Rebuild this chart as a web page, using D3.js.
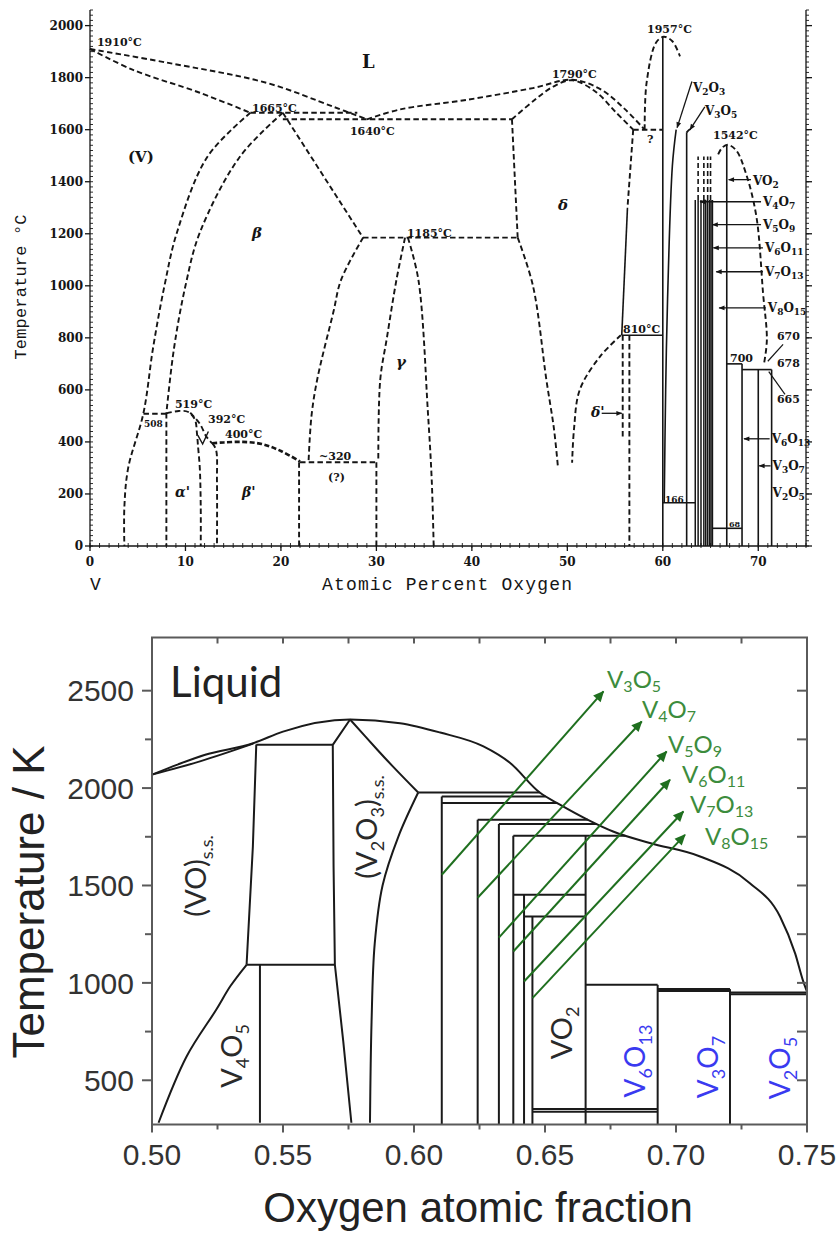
<!DOCTYPE html>
<html><head><meta charset="utf-8">
<script src="https://cdn.jsdelivr.net/npm/d3@7"></script>
<style>
body{margin:0;background:#fff;}
svg{display:block;}
</style></head><body>
<svg id="c" width="838" height="1237"></svg>
<script>
// ================= Upper diagram: V–O system, °C vs atomic percent oxygen =================
const topTempTicks = d3.range(0, 2001, 200);
const topTempMinor = d3.range(0, 2061, 20);
const topOxTicks = d3.range(0, 71, 10);
const topOxMinor = d3.range(0, 76, 1);

// dashed boundaries [at.% O, °C]
const liqV = [[0,1910],[8,1858],[18.5,1780],[25.5,1688],[29,1640]];
const solV = [[0,1910],[4.5,1830],[11.5,1742],[16.8,1665]];
const liqDelta = [[29,1640],[32.5,1678],[39.5,1715],[46.4,1760],[50.5,1792],[53.5,1755],[56,1680],[58.1,1600]];
const solDelta = [[44.2,1640],[46.5,1712],[48.5,1765],[50.5,1790],[53,1745],[55,1670],[56.9,1600]];
const peri1665 = [[16.8,1665],[28,1665]];
const line1640 = [[20.2,1640],[44.2,1640]];
const vSolvus = [[16.8,1665],[12.3,1496],[9.1,1204],[7.8,1000],[6.6,760],[5.6,511],[4.0,300],[3.6,150],[3.6,0]];
const betaLeft = [[20.2,1665],[15.7,1496],[11.5,1204],[10,1000],[8.8,760],[8,511]];
const alphaEdge = [[8,511],[8,0]];
const line508 = [[5.6,508],[8,508]];
const alphaDome = [[8,510],[9.3,519],[10.3,515],[11,485],[11.2,435],[11.3,390],[11.5,300],[11.6,150],[11.6,0]];
const alphaBeta = [[10.5,512],[11.5,470],[12.2,420],[12.8,395]];
const betaPrimeLeft = [[12.8,395],[13.2,370],[13.3,250],[13.3,0]];
const curve400 = [[12.8,395],[14,398],[16,400],[18,392],[20,365],[22,325]];
const line320 = [[22,322],[30,322]];
const edge22 = [[21.9,322],[21.9,0]];
const edge30 = [[30,322],[30,0]];
const gammaOuterLeft = [[22.9,330],[23.2,500],[23.8,640],[25.5,900],[26.3,1023],[28.6,1185]];
const gammaLeft = [[33,1185],[32.1,1023],[31.1,800],[30.4,638],[30.2,330]];
const gammaRight = [[33.3,1185],[34.4,1023],[35.4,511],[35.8,250],[36,0]];
const betaRight = [[20.2,1665],[28.6,1185]];
const line1185 = [[28.6,1185],[44.8,1185]];
const deltaLeft = [[44.2,1640],[44.8,1185]];
const deltaLower = [[44.8,1185],[46.4,1000],[47.8,640],[48.6,450],[49,310]];
const deltaPrime = [[55.6,810],[53.4,727],[51.3,600],[50.7,450],[50.5,320]];
const deltaPrimeA = [[56.5,810],[56.5,0]];
const deltaPrimeB = [[55.8,810],[55.8,420]];
const line1600 = [[56.9,1600],[60,1600]];
const deltaRightUpper = [[56.9,1600],[56.3,1300]];
const v2o3Dome = [[58.1,1600],[58.3,1780],[59.3,1935],[60.1,1957],[61,1940],[61.8,1882]];
const vo2Dome = [[65.8,1505],[66.2,1530],[66.8,1542],[67.7,1520],[68.7,1433],[69.8,1267],[70.5,972],[70.9,792],[70.6,700]];
const v3o5Cap = [[62.5,1590],[62.9,1602],[63.3,1598]];

// solid boundaries
const deltaRightLower = [[56.3,1300],[55.7,810]];
const line810 = [[55.7,810],[60,810]];
const v2o3Line = [[60,0],[60,1957]];
const v2o3Edge = [[61.4,1600],[61.0,1460],[60.5,950],[60.3,600],[60.15,166]];
const line166 = [[60,166],[63.4,166]];
const v3o5Line = [[62.5,0],[62.5,1590]];
const magneliSolid = [63.4, 63.7, 64.0, 64.3, 64.5, 64.7, 64.9, 65.05, 65.2];
const magneliSolidTop = 1330;
const magneliDashed = [63.7, 64.3, 64.7, 65.0];
const magneliDashedTop = 1497;
const vo2Line = [[66.7,0],[66.7,1542]];
const line700 = [[66.7,700],[68.3,700]];
const v6o13Line = [[68.3,0],[68.3,700]];
const line678 = [[68.3,678],[71.4,678]];
const v3o7Line = [[70,0],[70,678]];
const v2o5Line = [[71.4,0],[71.4,678]];
const line68 = [[65.2,68],[68.3,68]];

// labelled phases with pointer arrows: [label, label at.%, label °C, arrow tip at.%, arrow °C]
const pointerLabels = [
  ["VO_{2}", 69.45, 1387, 66.9, 1408],
  ["V_{4}O_{7}", 70.5, 1307, 63.9, 1323],
  ["V_{5}O_{9}", 70.5, 1218, 65.2, 1235],
  ["V_{6}O_{11}", 70.7, 1130, 65.3, 1146],
  ["V_{7}O_{13}", 70.7, 1038, 65.6, 1054],
  ["V_{8}O_{15}", 71.0, 899, 65.9, 915],
  ["V_{6}O_{13}", 71.4, 396, 68.5, 412],
  ["V_{3}O_{7}", 71.5, 292, 70.1, 308]
];
const plainRightLabels = [["V_{2}O_{5}", 71.5, 188]];
// leaders from oxide labels down to the phase lines: [label, x, T, fromAt, fromT, toAt, toT]
const leaderLabels = [
  ["V_{2}O_{3}", 63.16, 1745, 63.05, 1785, 61.5, 1608],
  ["V_{3}O_{5}", 64.42, 1656, 64.4, 1688, 62.85, 1600]
];
// temperature annotations: [text, at.%, °C, font size]
const tempNotes = [
  ["1910°C", 0.73, 1921, 11], ["1665°C", 16.97, 1668, 11], ["1640°C", 27.23, 1580, 11],
  ["1790°C", 48.39, 1799, 11], ["1957°C", 58.35, 1972, 11], ["1542°C", 65.26, 1564, 11],
  ["1185°C", 33.2, 1188, 11], ["810°C", 55.83, 819, 11], ["519°C", 8.9, 530, 11],
  ["508", 5.66, 457, 9], ["392°C", 12.36, 473, 11], ["400°C", 14.14, 415, 11],
  ["~320", 23.99, 331, 11], ["(?)", 24.93, 250, 11], ["?", 58.35, 1549, 11],
  ["166", 60.23, 166, 9], ["700", 67.04, 707, 11], ["670", 71.96, 792, 11],
  ["678", 71.96, 688, 11], ["665", 71.96, 550, 11], ["68", 66.93, 73, 8]
];
// phase-field names: [text, at.%, °C, size, italic]
const phaseNames = [
  ["L", 28.49, 1837, 18, false], ["(V)", 3.98, 1476, 15, false], ["β", 16.97, 1184, 15, true],
  ["δ", 49.02, 1291, 15, true], ["γ", 32.05, 688, 15, true], ["α'", 8.9, 188, 14, true],
  ["β'", 15.92, 188, 14, true], ["δ'", 52.48, 496, 14, true]
];
// small leaders for the 670 / 665 labels: [fromAt, fromT, toAt, toT]
const smallLeaders = [[71.0, 710, 72.6, 775], [71.1, 670, 72.8, 583]];

// ================= Lower diagram: K vs oxygen atomic fraction =================
const botXTicks = [0.50, 0.55, 0.60, 0.65, 0.70, 0.75];
const botXMinor = [0.525, 0.575, 0.625, 0.675, 0.725];
const botYTicks = [500, 1000, 1500, 2000, 2500];
const botYMinor = [750, 1250, 1750, 2250];

const liquidus = [[0.500,2069],[0.510,2122],[0.520,2170],[0.5386,2230],[0.550,2290],[0.5756,2352],[0.5947,2333],[0.610,2285],[0.6265,2214],[0.6366,2130],[0.648,1977],[0.6557,1915],[0.6664,1837],[0.676,1777],[0.690,1718],[0.7092,1649],[0.7282,1512],[0.7397,1341],[0.7455,1150],[0.7485,1010],[0.750,955]];
const lowerLens = [[0.500,2069],[0.5183,2137],[0.5386,2228]];
const voRight = [[0.5398,2224],[0.5385,1700],[0.5361,1093]];
const twoPhaseTop = [[0.5398,2222],[0.5690,2222]];
const v2o3Left = [[0.5756,2352],[0.5690,2222],[0.5693,1600],[0.5698,1093],[0.5730,700],[0.5761,282]];
const eutectoid = [[0.5361,1093],[0.5698,1093]];
const v4o5 = [[0.5412,1093],[0.5412,282]];
const voLeft = [[0.5361,1093],[0.5300,985],[0.5245,862],[0.5132,622],[0.5025,282]];
const v2o3Solidus = [[0.5756,2352],[0.586,2197],[0.592,2110],[0.6016,1977]];
const v2o3Right = [[0.6016,1977],[0.594,1750],[0.588,1500],[0.585,1200],[0.5838,800],[0.5832,282]];

// Magnéli phases: composition and the temperature where each line meets its peritectic
const magneliX = [0.6106, 0.6243, 0.6324, 0.6379, 0.6420, 0.6452];
const magneliTopT = [1957, 1837, 1816, 1755, 1452, 1341];
// peritectic lines running to the liquidus: [start fraction, K]
const peritectics = [[0.6016,1977],[0.6106,1957],[0.6106,1923],[0.6243,1837],[0.6324,1816],[0.6379,1755]];
// closed horizontal segments: [from, to, K]
const tieLines = [[0.6379,0.6655,1452],[0.6420,0.6655,1341],[0.6452,0.693,352],[0.6452,0.693,338],
  [0.6655,0.693,990],[0.693,0.7206,968],[0.693,0.7206,958],[0.7206,0.75,950],[0.7206,0.75,942]];
// stoichiometric lines: [fraction, top K]
const compounds = [[0.6655,1755],[0.693,990],[0.7206,968]];

const arrowTail = [[0.6106,1555],[0.6243,1437],[0.6324,1232],[0.6379,1161],[0.6420,1007],[0.6452,922]];
const arrowHead = [[0.6723,2496],[0.6869,2342],[0.6964,2188],[0.6977,2043],[0.7028,1880],[0.7034,1760]];
const arrowNames = ["V_{3}O_{5}","V_{4}O_{7}","V_{5}O_{9}","V_{6}O_{11}","V_{7}O_{13}","V_{8}O_{15}"];
const arrowNameAt = [[0.6737,2514],[0.6870,2360],[0.6969,2178],[0.7023,2027],[0.7053,1872],[0.7111,1708]];

// vertical phase labels: [text, fraction, K, colour key]
const verticalNames = [
  ["(VO)_{s.s.}", 0.5206, 1549, "k"], ["(V_{2}O_{3})_{s.s.}", 0.5859, 1800, "k"],
  ["V_{4}O_{5}", 0.5344, 625, "k"], ["VO_{2}", 0.6603, 743, "k"],
  ["V_{6}O_{13}", 0.6882, 599, "b"], ["V_{3}O_{7}", 0.7160, 568, "b"], ["V_{2}O_{5}", 0.7435, 563, "b"]
];

// ---------------------------------------------------------------------------------
const INK = "#151515";
const GREEN_LINE = "#1f6f1f";
const GREEN_TEXT = "#3c8c3c";
const BLUE = "#3a3af0";
const serif = "'DejaVu Serif', serif";
const mono = "'Liberation Mono', 'DejaVu Sans Mono', monospace";
const sans = "'Liberation Sans', Arial, sans-serif";
const human = "Lato, 'Liberation Sans', sans-serif";

const svg = d3.select("#c");
const defs = svg.append("defs");
defs.append("marker").attr("id", "gArrow").attr("viewBox", "0 0 10 10")
  .attr("refX", 9).attr("refY", 5).attr("markerWidth", 12).attr("markerHeight", 11)
  .attr("markerUnits", "userSpaceOnUse").attr("orient", "auto")
  .append("path").attr("d", "M0,0.5 L10,5 L0,9.5 Z").attr("fill", GREEN_LINE);
defs.append("marker").attr("id", "kArrow").attr("viewBox", "0 0 10 10")
  .attr("refX", 9).attr("refY", 5).attr("markerWidth", 8).attr("markerHeight", 6)
  .attr("markerUnits", "userSpaceOnUse").attr("orient", "auto")
  .append("path").attr("d", "M0,1 L10,5 L0,9 Z").attr("fill", INK);

function chemText(parent, str, o) {
  const t = parent.append("text")
    .attr("x", o.x).attr("y", o.y)
    .attr("font-family", o.family).attr("font-size", o.size)
    .attr("font-weight", o.weight || "normal")
    .attr("font-style", o.style || "normal")
    .attr("fill", o.fill || INK)
    .attr("text-anchor", o.anchor || "start");
  if (o.rotate) t.attr("transform", `rotate(${o.rotate},${o.x},${o.y})`);
  const subSize = o.subSize || o.size * 0.65;
  const shift = o.subShift || o.size * 0.28;
  let down = false;
  str.split(/(_\{[^}]*\})/).filter(s => s.length).forEach(p => {
    const isSub = p.startsWith("_{");
    const ts = t.append("tspan").text(isSub ? p.slice(2, -1) : p)
      .attr("font-size", isSub ? subSize : o.size);
    if (isSub && !down) { ts.attr("dy", shift); down = true; }
    else if (!isSub && down) { ts.attr("dy", -shift); down = false; }
  });
  return t;
}

// ================= draw upper diagram =================
const xA = d3.scaleLinear([0, 75], [90, 806]);
const yA = d3.scaleLinear([0, 2060], [546, 10]);
const gA = svg.append("g");
const curveA = d3.line().x(d => xA(d[0])).y(d => yA(d[1])).curve(d3.curveCatmullRom.alpha(0.5));
const straightA = d3.line().x(d => xA(d[0])).y(d => yA(d[1]));

const dashed = [liqV, solV, liqDelta, solDelta, vSolvus, betaLeft, alphaDome, alphaBeta, betaPrimeLeft,
  gammaOuterLeft, gammaLeft, gammaRight, deltaLower, deltaPrime, v2o3Dome, vo2Dome, v3o5Cap];
const dashedStraight = [peri1665, line1640, alphaEdge, line508, line320, edge22, edge30, betaRight,
  line1185, deltaLeft, deltaPrimeA, deltaPrimeB, line1600, deltaRightUpper];
gA.selectAll("path.dc").data(dashed).join("path").attr("class", "dc")
  .attr("d", curveA).attr("fill", "none").attr("stroke", INK).attr("stroke-width", 1.9)
  .attr("stroke-dasharray", "5.5,3.2");
gA.selectAll("path.ds").data(dashedStraight).join("path").attr("class", "ds")
  .attr("d", straightA).attr("fill", "none").attr("stroke", INK).attr("stroke-width", 1.9)
  .attr("stroke-dasharray", "5.5,3.2");
gA.append("path").attr("d", curveA(curve400)).attr("fill", "none").attr("stroke", INK)
  .attr("stroke-width", 2.6).attr("stroke-dasharray", "5,2.5");

const solid = [deltaRightLower, line810, v2o3Line, line166, v3o5Line, vo2Line, line700, v6o13Line,
  line678, v3o7Line, v2o5Line, line68];
gA.selectAll("path.sl").data(solid).join("path").attr("class", "sl")
  .attr("d", straightA).attr("fill", "none").attr("stroke", INK).attr("stroke-width", 1.6);
gA.append("path").attr("d", curveA(v2o3Edge)).attr("fill", "none").attr("stroke", INK).attr("stroke-width", 1.6);
gA.selectAll("line.mg").data(magneliSolid).join("line").attr("class", "mg")
  .attr("x1", d => xA(d)).attr("x2", d => xA(d)).attr("y1", yA(0)).attr("y2", yA(magneliSolidTop))
  .attr("stroke", INK).attr("stroke-width", 1.5);
gA.selectAll("line.mgd").data(magneliDashed).join("line").attr("class", "mgd")
  .attr("x1", d => xA(d)).attr("x2", d => xA(d)).attr("y1", yA(magneliSolidTop)).attr("y2", yA(magneliDashedTop))
  .attr("stroke", INK).attr("stroke-width", 1.6).attr("stroke-dasharray", "5,3");
// small junction mark at 392 °C
gA.append("path").attr("d", straightA([[11.3, 425], [11.8, 392], [12.4, 440]]))
  .attr("fill", "none").attr("stroke", INK).attr("stroke-width", 1.4);

// pointer arrows on the right
pointerLabels.forEach(([lab, lx, lt, ax, at]) => {
  gA.append("line").attr("x1", xA(lx) - 2).attr("y1", yA(at)).attr("x2", xA(ax)).attr("y2", yA(at))
    .attr("stroke", INK).attr("stroke-width", 1.3).attr("marker-end", "url(#kArrow)");
  chemText(gA, lab, { x: xA(lx), y: yA(lt), family: serif, size: 12, weight: "bold", subSize: 9, subShift: 3 });
});
plainRightLabels.forEach(([lab, lx, lt]) =>
  chemText(gA, lab, { x: xA(lx), y: yA(lt), family: serif, size: 12, weight: "bold", subSize: 9, subShift: 3 }));
leaderLabels.forEach(([lab, lx, lt, fx, ft, tx, tt]) => {
  gA.append("line").attr("x1", xA(fx)).attr("y1", yA(ft)).attr("x2", xA(tx)).attr("y2", yA(tt))
    .attr("stroke", INK).attr("stroke-width", 1.3).attr("marker-end", "url(#kArrow)");
  chemText(gA, lab, { x: xA(lx), y: yA(lt), family: serif, size: 12, weight: "bold", subSize: 9, subShift: 3 });
});
smallLeaders.forEach(([fx, ft, tx, tt]) => gA.append("line")
  .attr("x1", xA(fx)).attr("y1", yA(ft)).attr("x2", xA(tx)).attr("y2", yA(tt))
  .attr("stroke", INK).attr("stroke-width", 1.2));
// δ' pointer
gA.append("line").attr("x1", xA(53.6)).attr("y1", yA(510)).attr("x2", xA(55.7)).attr("y2", yA(510))
  .attr("stroke", INK).attr("stroke-width", 1.3).attr("marker-end", "url(#kArrow)");

gA.selectAll("text.note").data(tempNotes).join("text").attr("class", "note")
  .attr("x", d => xA(d[1])).attr("y", d => yA(d[2])).text(d => d[0])
  .attr("font-family", serif).attr("font-weight", "bold").attr("font-size", d => d[3]).attr("fill", INK);
gA.selectAll("text.ph").data(phaseNames).join("text").attr("class", "ph")
  .attr("x", d => xA(d[1])).attr("y", d => yA(d[2])).text(d => d[0])
  .attr("font-family", serif).attr("font-weight", "bold").attr("font-size", d => d[3])
  .attr("font-style", d => d[4] ? "italic" : "normal").attr("fill", INK);

// axes: left, right and bottom with ruler-style minor ticks
const axA = gA.append("g").attr("stroke", INK).attr("stroke-width", 1.3);
axA.append("line").attr("x1", xA(0)).attr("x2", xA(0)).attr("y1", yA(0)).attr("y2", yA(2060));
axA.append("line").attr("x1", xA(75)).attr("x2", xA(75)).attr("y1", yA(0)).attr("y2", yA(2060));
axA.append("line").attr("x1", xA(0)).attr("x2", xA(75)).attr("y1", yA(0)).attr("y2", yA(0));
axA.selectAll("line.lmin").data(topTempMinor).join("line").attr("class", "lmin")
  .attr("x1", xA(0)).attr("x2", xA(0) + 3).attr("y1", d => yA(d)).attr("y2", d => yA(d)).attr("stroke-width", 0.9);
axA.selectAll("line.lmaj").data(topTempTicks).join("line").attr("class", "lmaj")
  .attr("x1", xA(0) - 5).attr("x2", xA(0)).attr("y1", d => yA(d)).attr("y2", d => yA(d));
axA.selectAll("line.rmin").data(topTempMinor).join("line").attr("class", "rmin")
  .attr("x1", xA(75)).attr("x2", xA(75) + 3).attr("y1", d => yA(d)).attr("y2", d => yA(d)).attr("stroke-width", 0.9);
axA.selectAll("line.rmaj").data(topTempTicks).join("line").attr("class", "rmaj")
  .attr("x1", xA(75)).attr("x2", xA(75) + 6).attr("y1", d => yA(d)).attr("y2", d => yA(d));
axA.selectAll("line.bmin").data(topOxMinor).join("line").attr("class", "bmin")
  .attr("x1", d => xA(d)).attr("x2", d => xA(d)).attr("y1", yA(0) - 3).attr("y2", yA(0) + 2).attr("stroke-width", 0.9);
axA.selectAll("line.bmaj").data(topOxTicks).join("line").attr("class", "bmaj")
  .attr("x1", d => xA(d)).attr("x2", d => xA(d)).attr("y1", yA(0)).attr("y2", yA(0) + 5);
gA.selectAll("text.yt").data(topTempTicks).join("text").attr("class", "yt")
  .attr("x", xA(0) - 7).attr("y", d => yA(d)).attr("dy", "0.36em").attr("text-anchor", "end")
  .text(d => d).attr("font-family", serif).attr("font-weight", "bold").attr("font-size", 12).attr("fill", INK);
gA.selectAll("text.xt").data(topOxTicks).join("text").attr("class", "xt")
  .attr("x", d => xA(d)).attr("y", 566).attr("text-anchor", "middle")
  .text(d => d).attr("font-family", serif).attr("font-weight", "bold").attr("font-size", 12).attr("fill", INK);
gA.append("text").attr("x", 447).attr("y", 590).attr("text-anchor", "middle").text("Atomic Percent Oxygen")
  .attr("font-family", mono).attr("font-size", 18).attr("textLength", 250).attr("fill", INK);
gA.append("text").attr("x", 90).attr("y", 590).text("V")
  .attr("font-family", mono).attr("font-size", 18).attr("fill", INK);
gA.append("text").attr("transform", "translate(26,287) rotate(-90)").attr("text-anchor", "middle")
  .text("Temperature °C").attr("font-family", mono).attr("font-size", 17).attr("textLength", 145).attr("fill", INK);

// ================= draw lower diagram =================
const xB = d3.scaleLinear([0.5, 0.75], [152, 807]);
const yB = d3.scaleLinear([273, 2773], [1124.5, 637.5]);
const gB = svg.append("g");
const lineB = d3.line().x(d => xB(d[0])).y(d => yB(d[1]));
const KLINE = "#1a1a1a";
const stroke = sel => sel.attr("fill", "none").attr("stroke", KLINE).attr("stroke-width", 2);

const liqPath = gB.append("path").attr("d", lineB.curve(d3.curveMonotoneX)(liquidus)).call(stroke);
gB.append("path").attr("d", lineB.curve(d3.curveMonotoneX)(lowerLens)).call(stroke);
[voLeft, v2o3Solidus, v2o3Right].forEach(c =>
  gB.append("path").attr("d", lineB.curve(d3.curveCatmullRom.alpha(0.5))(c)).call(stroke));
[voRight, twoPhaseTop, v2o3Left, eutectoid, v4o5].forEach(c =>
  gB.append("path").attr("d", lineB.curve(d3.curveLinear)(c)).call(stroke));

// liquidus sampled so peritectic lines end exactly on it
const lp = liqPath.node(), LL = lp.getTotalLength();
const liqSamples = d3.range(0, LL, 0.5).map(l => lp.getPointAtLength(l));
const peakX = xB(0.5756);
const liqXAt = T => { const y = yB(T); const p = liqSamples.find(s => s.x > peakX && s.y >= y); return p ? p.x : xB(0.75); };

peritectics.forEach(([f, T]) => gB.append("line").attr("x1", xB(f)).attr("x2", liqXAt(T))
  .attr("y1", yB(T)).attr("y2", yB(T)).attr("stroke", KLINE).attr("stroke-width", 2));
magneliX.forEach((f, i) => gB.append("line").attr("x1", xB(f)).attr("x2", xB(f))
  .attr("y1", yB(magneliTopT[i])).attr("y2", yB(273)).attr("stroke", KLINE).attr("stroke-width", 2));
compounds.forEach(([f, T]) => gB.append("line").attr("x1", xB(f)).attr("x2", xB(f))
  .attr("y1", yB(T)).attr("y2", yB(273)).attr("stroke", KLINE).attr("stroke-width", 2));
tieLines.forEach(([a, b, T]) => gB.append("line").attr("x1", xB(a)).attr("x2", xB(b))
  .attr("y1", yB(T)).attr("y2", yB(T)).attr("stroke", KLINE).attr("stroke-width", 2));

// green pointers to the Magnéli phases
arrowTail.forEach((t, i) => gB.append("line")
  .attr("x1", xB(t[0])).attr("y1", yB(t[1])).attr("x2", xB(arrowHead[i][0])).attr("y2", yB(arrowHead[i][1]))
  .attr("stroke", GREEN_LINE).attr("stroke-width", 2).attr("marker-end", "url(#gArrow)"));
arrowNames.forEach((n, i) => chemText(gB, n, { x: xB(arrowNameAt[i][0]), y: yB(arrowNameAt[i][1]),
  family: human, size: 24, subSize: 16, subShift: 4, fill: GREEN_TEXT }));

verticalNames.forEach(([n, f, T, c]) => chemText(gB, n, { x: xB(f), y: yB(T), family: human,
  size: c === "b" ? 28 : 29, subSize: 18, subShift: 7, fill: c === "b" ? BLUE : "#2a2a2a",
  anchor: "middle", rotate: -90 }));

gB.append("text").attr("x", xB(0.5069)).attr("y", yB(2468)).text("Liquid")
  .attr("font-family", human).attr("font-size", 42).attr("fill", "#222");

// frame and ticks
const FRAME = "#5a5a5a";
gB.append("rect").attr("x", xB(0.5)).attr("y", yB(2773)).attr("width", xB(0.75) - xB(0.5))
  .attr("height", yB(273) - yB(2773)).attr("fill", "none").attr("stroke", FRAME).attr("stroke-width", 2);
const tk = (x1, y1, x2, y2) => gB.append("line").attr("x1", x1).attr("y1", y1).attr("x2", x2).attr("y2", y2)
  .attr("stroke", FRAME).attr("stroke-width", 2);
botXTicks.forEach(v => { tk(xB(v), yB(273), xB(v), yB(273) + 8); tk(xB(v), yB(2773), xB(v), yB(2773) + 6); });
botXMinor.forEach(v => { tk(xB(v), yB(273), xB(v), yB(273) + 5); tk(xB(v), yB(2773), xB(v), yB(2773) + 6); });
botYTicks.forEach(v => { tk(xB(0.5) - 10, yB(v), xB(0.5), yB(v)); tk(xB(0.75) - 10, yB(v), xB(0.75), yB(v)); });
botYMinor.forEach(v => { tk(xB(0.5) - 7, yB(v), xB(0.5), yB(v)); tk(xB(0.75) - 10, yB(v), xB(0.75), yB(v)); });

gB.selectAll("text.bx").data(botXTicks).join("text").attr("class", "bx")
  .attr("x", d => xB(d)).attr("y", 1165).attr("text-anchor", "middle").text(d => d3.format(".2f")(d))
  .attr("font-family", sans).attr("font-size", 30).attr("fill", "#333");
gB.selectAll("text.by").data(botYTicks).join("text").attr("class", "by")
  .attr("x", 134).attr("y", d => yB(d)).attr("dy", "0.36em").attr("text-anchor", "end").text(d => d)
  .attr("font-family", sans).attr("font-size", 30).attr("fill", "#333");
gB.append("text").attr("x", 478).attr("y", 1222).attr("text-anchor", "middle").text("Oxygen atomic fraction")
  .attr("font-family", sans).attr("font-size", 42).attr("fill", "#222");
gB.append("text").attr("transform", "translate(44,902) rotate(-90)").attr("text-anchor", "middle")
  .text("Temperature / K").attr("font-family", sans).attr("font-size", 44).attr("fill", "#222");
</script>
</body></html>
